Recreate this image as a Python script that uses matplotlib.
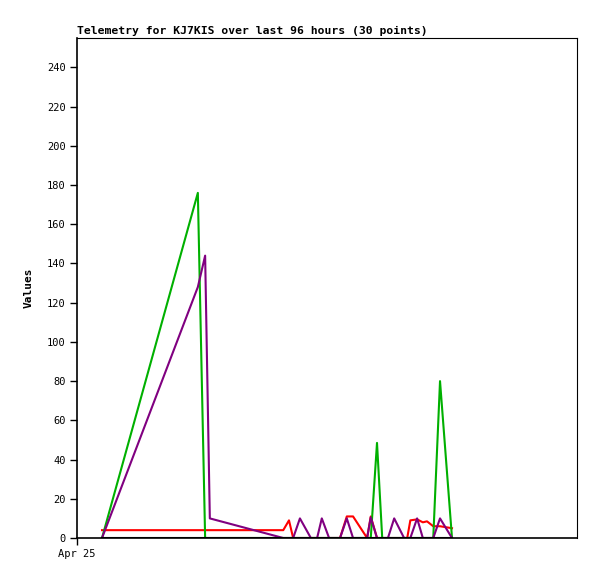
import matplotlib
matplotlib.use("Agg")
import matplotlib.pyplot as plt

# hours since Apr 25 00:00
hours = [4.8, 23.2, 24.6, 25.5, 39.6, 40.7, 41.5, 42.8, 44.9, 46.1,
         47.0, 48.4, 50.5, 51.8, 53.0, 55.7, 56.4, 57.6, 58.6, 59.7,
         60.9, 62.8, 63.4, 64.0, 65.3, 66.4, 67.2, 68.4, 69.7, 72.0]

red = [4, 4, 4, 4, 4, 9, 0, 0, 0, 0,
       0, 0, 0, 11, 11, 0, 11, 0, 0, 0,
       0, 0, 0, 9, 9.5, 8, 8.5, 6, 6, 5]
green = [0, 176, 0, 0, 0, 0, 0, 0, 0, 0,
         0, 0, 0, 0, 0, 0, 0, 48.5, 0, 0,
         0, 0, 0, 0, 0, 0, 0, 0, 80, 0]
purple = [0, 128, 144, 10, 0, 0, 0, 10, 0, 0,
          10, 0, 0, 10, 0, 0, 10.5, 0, 0, 0,
          10, 0, 0, 0, 10, 0, 0, 0, 10, 0]
black = [0] * len(hours)

y_ticks = list(range(0, 241, 20))

fig = plt.figure(figsize=(5.97, 5.79), dpi=100)
ax = fig.add_axes([0.129, 0.0708, 0.8375, 0.8636])

ax.plot(hours, red, color="#ff0000", linewidth=1.5)
ax.plot(hours, green, color="#00b000", linewidth=1.5)
ax.plot(hours, purple, color="#800080", linewidth=1.5)
ax.plot(hours, black, color="black", linewidth=1.5, zorder=5)

ax.set_xlim(0, 96)
ax.set_ylim(0, 255)

mono = "DejaVu Sans Mono"
ax.set_yticks(y_ticks)
ax.set_yticklabels([str(v) for v in y_ticks], family=mono, fontsize=7.5)
ax.set_xticks([0])
ax.set_xticklabels(["Apr 25"], family=mono, fontsize=7.5)
ax.tick_params(axis="both", direction="out", length=5, width=1, pad=3)

for s in ax.spines.values():
    s.set_linewidth(0.8)
ax.spines["left"].set_linewidth(1.2)
ax.spines["bottom"].set_linewidth(1.2)

ax.set_ylabel("Values", family=mono, fontsize=8, fontweight="bold", labelpad=10)
ax.set_title("Telemetry for KJ7KIS over last 96 hours (30 points)",
             family=mono, fontsize=8.2, fontweight="bold", loc="left", pad=3)

fig.savefig("out.png", dpi=100)
